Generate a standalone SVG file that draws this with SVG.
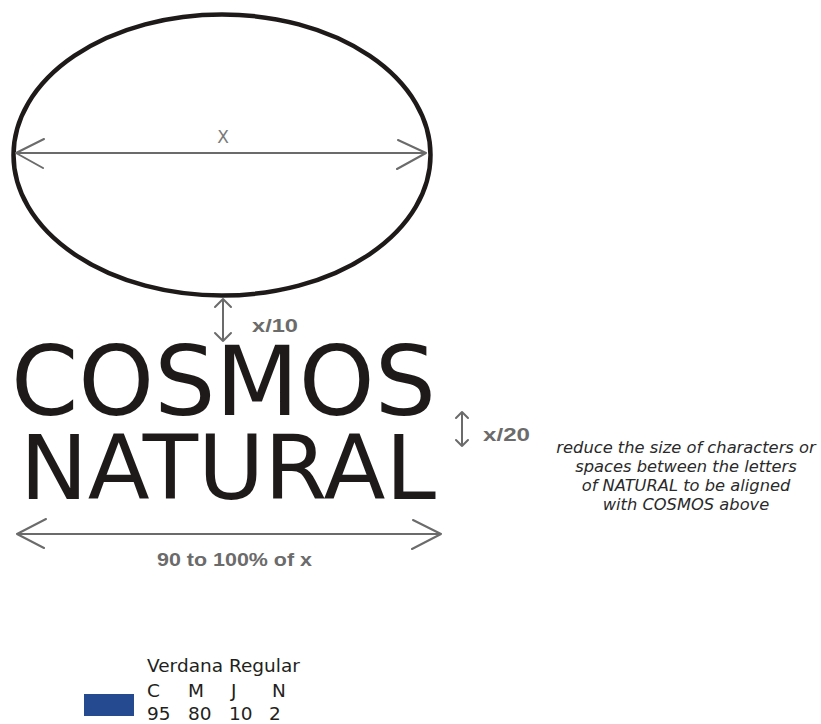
<svg xmlns="http://www.w3.org/2000/svg" width="821" height="724" viewBox="0 0 821 724">
<style>
.dim{fill:none;stroke:#6b6b6b;stroke-width:2;stroke-linecap:round;stroke-linejoin:round}
.lbl{font-family:"Liberation Sans",Arial,sans-serif;font-weight:bold;fill:#6b6b6b}
.big{font-family:"DejaVu Sans",Verdana,sans-serif;fill:#1e1a1a}
.note{font-family:"DejaVu Sans",Verdana,sans-serif;font-style:italic;font-size:16.3px;fill:#2a2a2a;text-anchor:middle}
.ver{font-family:"DejaVu Sans",Verdana,sans-serif;font-size:18.5px;fill:#231f20}
</style>
<rect width="821" height="724" fill="#fff"/>
<g id="ellipse">
<ellipse cx="222" cy="155" rx="208.5" ry="140.5" fill="none" stroke="#1e1a1a" stroke-width="4.5"/>
<text x="223" y="143" font-family="'DejaVu Sans',Verdana,sans-serif" font-size="17" fill="#7a7a7a" text-anchor="middle">X</text>
</g>
<g id="cosmos">
<text class="big" x="11" y="415" font-size="96" textLength="425" lengthAdjust="spacingAndGlyphs">COSMOS</text>
</g>
<g id="natural">
<text class="big" x="20" y="499" font-size="89" textLength="416" lengthAdjust="spacingAndGlyphs">NATURAL</text>
</g>
<g id="connectors">
<path class="dim" d="M16 153 H426 M44 139 L16 153 L43 168 M398 140 L426 153 L397 169"/>
<path class="dim" d="M223 299 V341 M215 307 L223 299 L231 307 M215 333 L223 341 L231 333"/>
<path class="dim" d="M462 412 V446 M456 418 L462 412 L468 418 M456 440 L462 446 L468 440"/>
<path class="dim" d="M17 534 H441 M46 519 L17 534 L44 548 M413 520 L441 534 L412 549"/>
</g>
<g id="labels">
<text class="lbl" x="252" y="332" font-size="18.5" textLength="46" lengthAdjust="spacingAndGlyphs">x/10</text>
<text class="lbl" x="483" y="441" font-size="18.5" textLength="47" lengthAdjust="spacingAndGlyphs">x/20</text>
<text class="lbl" x="157" y="566" font-size="17.5" textLength="155" lengthAdjust="spacingAndGlyphs">90 to 100% of x</text>
</g>
<g id="note">
<text class="note" x="686" y="453">reduce the size of characters or</text>
<text class="note" x="686" y="472">spaces between the letters</text>
<text class="note" x="686" y="491">of NATURAL to be aligned</text>
<text class="note" x="686" y="510">with COSMOS above</text>
</g>
<g id="swatch">
<rect x="84" y="694" width="50" height="22" fill="#264a8f"/>
<text class="ver" x="147" y="672">Verdana Regular</text>
<text class="ver" x="147" y="697">C</text>
<text class="ver" x="188" y="697">M</text>
<text class="ver" x="231" y="697">J</text>
<text class="ver" x="272" y="697">N</text>
<text class="ver" x="147" y="720">95</text>
<text class="ver" x="188" y="720">80</text>
<text class="ver" x="229" y="720">10</text>
<text class="ver" x="269" y="720">2</text>
</g>
</svg>
